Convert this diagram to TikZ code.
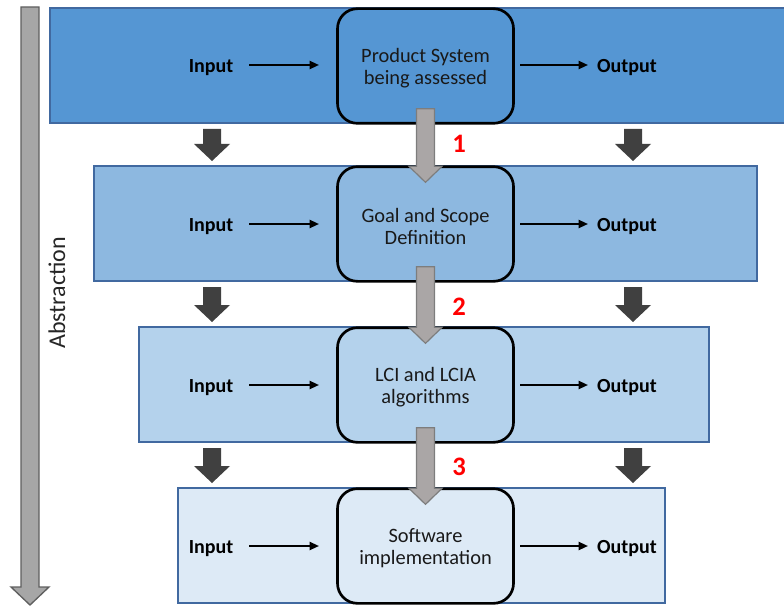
\documentclass[tikz,border=0pt]{standalone}
\usepackage{fontspec}
\setmainfont{Carlito}
\usetikzlibrary{arrows.meta,positioning}

\definecolor{bandA}{RGB}{85,150,211}
\definecolor{bandB}{RGB}{141,184,224}
\definecolor{bandC}{RGB}{180,210,236}
\definecolor{bandD}{RGB}{221,234,246}
\definecolor{bandline}{RGB}{65,105,160}
\definecolor{stepgray}{RGB}{170,166,166}
\definecolor{stepgrayline}{RGB}{125,125,125}
\definecolor{darkarrow}{RGB}{64,64,64}
\definecolor{axisgray}{RGB}{166,166,166}
\definecolor{axisline}{RGB}{95,95,95}
\definecolor{numred}{RGB}{255,0,0}

\tikzset{
  band/.style={draw=bandline, line width=1.2pt},
  stage/.style={draw=black, line width=2pt, rounded corners=15pt,
    minimum width=132pt, minimum height=86pt, align=center},
  stagetext/.style={align=center, font=\fontsize{15.3}{16.6}\selectfont, text=black!90},
  io/.style={font=\fontsize{15}{15}\selectfont\bfseries},
  flow/.style={line width=1.5pt, -{Triangle[length=7pt,width=6pt]}},
  stepnum/.style={font=\fontsize{20}{20}\selectfont\bfseries, text=numred},
  steparrow/.style={fill=stepgray, draw=stepgrayline, line width=0.9pt},
  levelarrow/.style={fill=darkarrow, draw=none},
}

\begin{document}
\begin{tikzpicture}[x=0.75pt, y=-0.75pt]
\useasboundingbox (0,0) rectangle (784,606);
\clip (0,0) rectangle (784,606);

% abstraction axis
\draw[fill=axisgray, draw=axisline, line width=1pt]
  (21,7) -- (39,7) -- (39,587) -- (49,587) -- (30,605) -- (11,587) -- (21,587) -- cycle;
\node[rotate=90, font=\fontsize{18}{18}\selectfont, text=black!85] (abs) at (57,293) {Abstraction};

% four abstraction levels
\fill[bandA] (50,8) rectangle (790,123);
\draw[band] (50,8) rectangle (790,123);
\fill[bandB] (94,166) rectangle (757,281);
\draw[band] (94,166) rectangle (757,281);
\fill[bandC] (139,327) rectangle (709,442);
\draw[band] (139,327) rectangle (709,442);
\fill[bandD] (178,488) rectangle (665,603);
\draw[band] (178,488) rectangle (665,603);

% stage boxes and their labels
\foreach \k/\y/\col/\txt in {1/66/bandA/{Product System\\being assessed},
                             2/224/bandB/{Goal and Scope\\Definition},
                             3/385/bandC/{LCI and LCIA\\algorithms},
                             4/546/bandD/{Software\\implementation}}{
  \node[stage, fill=\col] (s\k) at (425.5,\y) {};
  \node[stagetext] (t\k) at (425.5,\y+2.5) {\txt};
}

% inputs and outputs
\foreach \k/\y in {1/65, 2/224, 3/385, 4/546}{
  \node[io] (in\k) at (211,\y+2.5) {Input};
  \node[io] (out\k) at (627,\y+2.5) {Output};
  \coordinate (ia\k) at (249,\y);
  \coordinate (ib\k) at (319,\y);
  \coordinate (oa\k) at (520,\y);
  \coordinate (ob\k) at (588,\y);
  \draw[flow] (ia\k) -- (ib\k);
  \draw[flow] (oa\k) -- (ob\k);
}

% level-to-level arrows beside the stages
\foreach \top/\tip in {129/161, 287/322, 448/483}{
  \foreach \cx in {212, 633}{
    \fill[levelarrow] (\cx-9,\top) -- (\cx+9,\top) -- (\cx+9,\tip-17) -- (\cx+18,\tip-17)
      -- (\cx,\tip) -- (\cx-18,\tip-17) -- (\cx-9,\tip-17) -- cycle;
  }
}

% stage-to-stage arrows
\foreach \a/\b in {s1/s2, s2/s3, s3/s4}{
  \path (\a.south) ++(0,-16) coordinate (\a top);
  \path (\b.north) ++(0,17) coordinate (\b tip);
  \draw[steparrow] ([xshift=-9*0.75pt]\a top) -- ([xshift=9*0.75pt]\a top)
    -- ([xshift=9*0.75pt,yshift=16*0.75pt]\b tip) -- ([xshift=16.5*0.75pt,yshift=16*0.75pt]\b tip)
    -- (\b tip) -- ([xshift=-16.5*0.75pt,yshift=16*0.75pt]\b tip)
    -- ([xshift=-9*0.75pt,yshift=16*0.75pt]\b tip) -- cycle;
}

\node[stepnum] (n1) at (459,144) {1};
\node[stepnum] (n2) at (459,307) {2};
\node[stepnum] (n3) at (459,467) {3};
\end{tikzpicture}
\end{document}
